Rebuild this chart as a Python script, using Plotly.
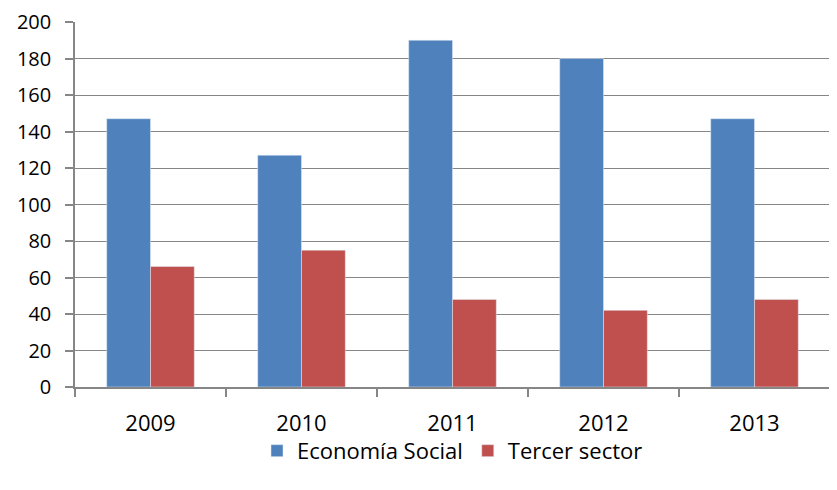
import plotly.graph_objects as go

anios = ["2009", "2010", "2011", "2012", "2013"]
economia_social = [147, 127, 190, 180, 147]
tercer_sector = [66, 75, 48, 42, 48]

fig = go.Figure()
fig.add_trace(go.Bar(x=anios, y=economia_social, name="Economía Social", marker_color="#4F81BD"))
fig.add_trace(go.Bar(x=anios, y=tercer_sector, name="Tercer sector", marker_color="#C0504D"))

gris = "#868686"
fuente = dict(family="Open Sans, Liberation Sans, sans-serif", size=22, color="black")
fuente_y = dict(family="Open Sans, Liberation Sans, sans-serif", size=20, color="black")
# la página tiene un margen de 8 px, se compensa en el tamaño
fig.update_layout(
    width=829, height=482,
    margin=dict(l=67, r=7, t=14, b=103),
    paper_bgcolor="white", plot_bgcolor="white",
    barmode="group", bargap=0.42, bargroupgap=0,
    font=fuente,
    xaxis=dict(showline=True, linecolor=gris, linewidth=1.5, ticks="outside", tickson="boundaries",
               ticklen=8, tickcolor=gris, tickwidth=1.5, showgrid=False, automargin=False,
               tickfont=fuente, ticklabelstandoff=16, ticklabeloverflow="allow"),
    yaxis=dict(range=[0, 200], dtick=20, showline=True, linecolor=gris, linewidth=1.5,
               ticks="outside", ticklen=8, tickcolor=gris, tickwidth=1.5, automargin=False,
               gridcolor=gris, gridwidth=1.2, zeroline=False, tickfont=fuente_y, ticklabelstandoff=10,
               ticklabeloverflow="allow"),
    legend=dict(orientation="h", x=0.5, xanchor="center", y=-0.175, yanchor="middle",
                font=fuente, itemwidth=30, bgcolor="rgba(0,0,0,0)"),
)
fig.write_html("out.html")
